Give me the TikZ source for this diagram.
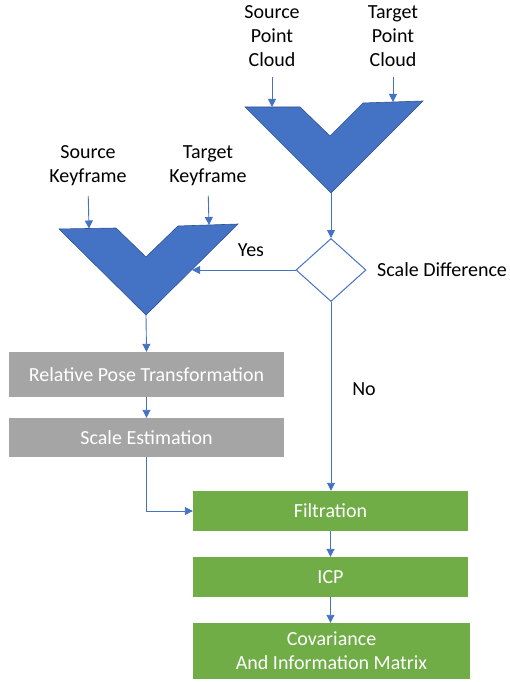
\documentclass[tikz,border=0pt]{standalone}
\usepackage{fontspec}
\setmainfont{Carlito}
\usetikzlibrary{arrows.meta,shapes.geometric}
\definecolor{ofblue}{HTML}{4472C4}
\definecolor{ofblueline}{HTML}{2F528F}
\definecolor{ofgray}{HTML}{A5A5A5}
\definecolor{ofgreen}{HTML}{70AD47}
\begin{document}
\begin{tikzpicture}[x=1pt,y=-1pt,
  conn/.style={draw=ofblue, line width=0.9pt, -{Triangle[width=8pt,length=8pt]}},
  graybox/.style={rectangle, inner sep=0, fill=ofgray, text=white, font=\fontsize{20}{24}\selectfont, align=center},
  greenbox/.style={rectangle, inner sep=0, fill=ofgreen, text=white, font=\fontsize{20}{24}\selectfont, align=center},
  lbl/.style={font=\fontsize{20}{24}\selectfont, align=center, inner sep=0},
  merge/.style={fill=ofblue, draw=ofblueline, line width=0.6pt, line join=miter}]
\useasboundingbox (0,0) rectangle (510,682);

% top merge
\path[merge] (245,107) -- (300,107) -- (330,136) -- (363,103) -- (423,101) -- (331,193) -- cycle;
\coordinate (tmA) at (272,107);
\coordinate (tmB) at (393,102);
\coordinate (tmTip) at (331,193);
\node[lbl] (spc) at (272,36) {Source\\Point\\Cloud};
\node[lbl] (tpc) at (393,36) {Target\\Point\\Cloud};
\draw[conn, shorten <=10pt] (spc.south) -- (tmA);
\draw[conn, shorten <=10pt] (tpc.south) -- (tmB);

% diamond
\node[diamond, draw=ofblue, line width=1pt, minimum width=70pt, minimum height=63pt, inner sep=0] (sd) at (331,270) {};
\node[lbl, anchor=west] (sdl) at (377,270) {Scale Difference};
\draw[conn] (tmTip) -- (sd.north);

% left merge
\path[merge] (59,229) -- (116,228) -- (146,257) -- (178,226) -- (238,224) -- (146,315) -- cycle;
\coordinate (lmA) at (89,228.5);
\coordinate (lmB) at (209,225);
\coordinate (lmTip) at (146,315);
\coordinate (lmYes) at (192,270);
\node[lbl] (skf) at (88,165.5) {Source\\Keyframe};
\node[lbl] (tkf) at (208,165.5) {Target\\Keyframe};
\draw[conn, shorten <=10pt] (skf.south) -- (lmA);
\draw[conn, shorten <=10pt] (tkf.south) -- (lmB);
\draw[conn] (sd.west) -- (lmYes);
\node[lbl] (yes) at (251,250) {Yes};

% gray boxes
\node[graybox, minimum width=275pt, minimum height=45pt] (rpt) at (146.5,374.5) {Relative Pose Transformation};
\node[graybox, minimum width=275pt, minimum height=39pt] (se) at (146.5,437.5) {Scale Estimation};
\draw[conn] (lmTip) -- (rpt.north);
\draw[conn] (rpt.south) -- (se.north);

% green boxes
\node[greenbox, minimum width=275pt, minimum height=40pt] (filt) at (330.5,511) {Filtration};
\node[greenbox, minimum width=275pt, minimum height=40pt] (icp) at (330.5,577) {ICP};
\node[greenbox, minimum width=277pt, minimum height=56pt] (cov) at (331.5,651) {Covariance\\And Information Matrix};
\draw[conn] (se.south) |- (filt.west);
\draw[conn] (sd.south) -- (sd.south |- filt.north);
\node[lbl] (no) at (364,389) {No};
\draw[conn] (filt.south) -- (icp.north);
\draw[conn] (icp.south) -- (icp.south |- cov.north);
\end{tikzpicture}
\end{document}
